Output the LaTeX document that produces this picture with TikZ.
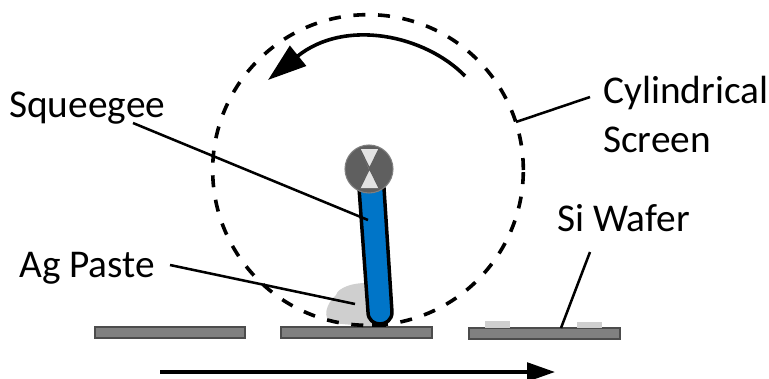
\documentclass[tikz,border=0pt]{standalone}
\usepackage{fontspec}
\setmainfont{Carlito}
\usetikzlibrary{arrows.meta}
\definecolor{barGray}{HTML}{808080}
\definecolor{pivotGray}{HTML}{5F5F5F}
\definecolor{lightGray}{HTML}{E3E3E3}
\definecolor{pasteGray}{HTML}{CFCFCF}
\definecolor{bladeBlue}{HTML}{0075C8}
\tikzset{
  lbl/.style={anchor=base west, inner sep=0pt, font=\fontsize{29.5}{32}\selectfont},
  leader/.style={line width=1.9pt},
  wafer/.style={fill=barGray, draw=black!70, line width=1pt},
  pad/.style={fill=pasteGray},
}
\begin{document}
\begin{tikzpicture}[x=0.75pt, y=-0.75pt]
  \useasboundingbox (0,0) rectangle (769,379);
  % 페이스트
  \fill[pasteGray] (372,283) .. controls (352,282) and (338,288) .. (336,295)
    .. controls (326,304) and (322,318) .. (332,323) -- (385,328) -- (385,283) -- cycle;
  % 웨이퍼
  \draw[wafer] (95,327) rectangle (245,338);
  \draw[wafer] (281,327) rectangle (432,338);
  \draw[wafer] (469,328) rectangle (620,339);
  \fill[pad] (485,321) rectangle (510,328);
  \fill[pad] (577,322) rectangle (602,328);
  % 스크린
  \draw[line width=2.7pt, dash pattern=on 9pt off 9.5pt] (368,170) circle (116.5pt);
  % 회전 방향
  \draw[line width=2.7pt, -{Triangle[length=29pt,width=19pt]}]
    (465,76) .. controls (425,35) and (345,18) .. (268,80);
  % 스퀴지
  \fill[black] (372,322) rectangle (386,327);
  \draw[line width=2.6pt, fill=bladeBlue] (359,188) -- (368,312)
    .. controls (368,328) and (392,328) .. (392,312) -- (384,188) -- cycle;
  % 축
  \draw[fill=pivotGray, draw=pivotGray!80, line width=0.8pt] (369,169) circle (18pt);
  \fill[lightGray] (360,149) -- (379,149) -- (369,169) -- (379,188) -- (360,188) -- (369,169) -- cycle;
  \draw[pivotGray, line width=1pt] (360,149) -- (379,188) (379,149) -- (360,188);
  % 글자
  \node[lbl] (squeegeeLbl) at (9,117) {Squeegee};
  \node[lbl] (pasteLbl) at (19,277) {Ag Paste};
  \node[lbl] (waferLbl) at (557,231) {Si Wafer};
  \node[lbl] (cylLbl) at (603,103) {Cylindrical};
  \node[lbl] (screenLbl) at (603,152) {Screen};
  % 지시선
  \coordinate (squeegeeEnd) at (368,220);
  \coordinate (pasteEnd) at (355,304);
  \coordinate (waferEnd) at (561,328);
  \coordinate (screenEnd) at (516,122);
  \coordinate (squeegeeStart) at (133,123);
  \coordinate (pasteStart) at (170,265);
  \coordinate (waferStart) at (590,252);
  \coordinate (screenStart) at (590,97);
  \draw[leader] (squeegeeStart) -- (squeegeeEnd);
  \draw[leader] (pasteStart) -- (pasteEnd);
  \draw[leader] (waferStart) -- (waferEnd);
  \draw[leader] (screenStart) -- (screenEnd);
  % 이동 방향
  \coordinate (moveStart) at (160,372);
  \coordinate (moveEnd) at (555,372);
  \draw[line width=2.6pt, -{Triangle[length=21pt,width=14pt]}] (moveStart) -- (moveEnd);
\end{tikzpicture}
\end{document}
